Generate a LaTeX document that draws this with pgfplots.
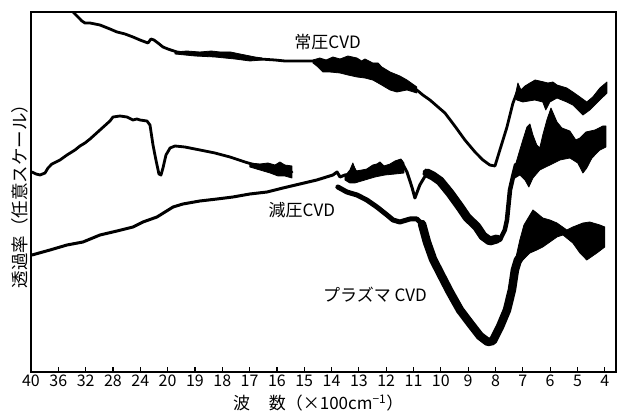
\documentclass[border=0pt]{standalone}
\usepackage{fontspec}
\setmainfont{Noto Sans CJK JP}
\usepackage{pgfplots}
\pgfplotsset{compat=1.18}

% x axis of the spectrometer chart: 4000-2000 cm^-1 at 400 per division,
% 2000-400 cm^-1 at 100 per division (values below in units of 100 cm^-1)
\pgfplotsset{
  ir axis/.style={
    x coord trafo/.code={\pgfmathparse{(##1>=20) ? ((40-##1)/4) : (25-##1)}},
  },
  trace/.style={black, no marks, line join=round, line cap=round, line width=#1},
  noise/.style={fill=black, draw=black, line width=0.8pt, line join=round, no marks},
}

\begin{document}
\begin{tikzpicture}
\begin{axis}[
  ir axis,
  width=585pt, height=360pt, scale only axis,
  xmin=40, xmax=3.59, ymin=0, ymax=360,
  xtick={40,36,32,28,24,20,19,18,17,16,15,14,13,12,11,10,9,8,7,6,5,4},
  xticklabels={40,36,32,28,24,20,19,18,17,16,15,14,13,12,11,10,9,8,7,6,5,4},
  ytick=\empty,
  xtick pos=bottom,
  tick align=inside,
  major tick length=5pt,
  every tick/.style={black, line width=1.2pt},
  axis line style={line width=1.6pt},
  xticklabel style={font=\fontsize{16}{16}\selectfont, inner sep=0pt, yshift=-3pt},
  xlabel={波\hspace{1.1em}数（×100cm\textsuperscript{−1}）},
  ylabel={透過率（任意スケール）},
  every axis x label/.style={at={(rel axis cs:0.491,0)}, anchor=north, inner sep=0pt,
    yshift=-23pt, font=\fontsize{17}{17}\selectfont},
  every axis y label/.style={at={(rel axis cs:-0.0051,0.5)}, rotate=90, anchor=south,
    inner sep=0pt, font=\fontsize{17.5}{17.5}\selectfont},
]

% ---------------- 常圧CVD ----------------
\addplot[trace=2.8pt] coordinates {
 (33.85,360) (33.12,355) (32.54,351) (32.10,349) (31.36,349) (30.63,348)
 (29.90,347) (28.44,343) (27.41,340) (26.24,338) (25.07,335) (24.05,332)
 (22.88,329) (22.44,333) (22.00,332) (21.41,329) (20.68,325) (19.99,323)
 (19.66,320) (19.37,319) (18.82,318) (18.27,317) (17.72,316) (17.17,314)
 (16.62,313) (16.07,312) (15.71,311) (15.34,311) (14.97,311) (14.68,311)
 (13.69,306) (13.07,304) (12.49,300) (11.86,291) (11.24,286) (10.88,282)
 (10.66,277) (10.40,272) (9.85,259) (9.49,246) (9.12,232) (8.75,220)
 (8.46,212) (8.21,207) (8.02,206) (7.84,222) (7.58,245) (7.36,269)
 (7.22,279) (7.11,282) (6.74,280) (6.19,282) (5.64,280) (5.10,274)
 (4.73,264) (4.44,270) (4.18,279) (3.96,284)
};
\addplot[noise] coordinates {
 (19.73,320) (19.30,321) (18.82,320) (18.40,321) (18.08,320) (17.70,320)
 (17.35,318) (16.80,315) (16.55,314)
 (16.55,312) (16.99,311) (17.54,313) (18.27,315) (19.00,316) (19.73,318) (19.73,320)
};
\addplot[noise] coordinates {
 (14.68,312) (14.43,314) (14.20,312) (13.95,315) (13.69,313) (13.40,316)
 (13.07,314) (12.90,311) (12.78,313) (12.49,309) (12.30,309) (12.16,305)
 (11.86,300) (11.50,296) (11.24,292) (10.88,285)
 (10.88,279) (11.24,282) (11.61,280) (11.86,282) (12.23,288) (12.49,292)
 (12.78,294) (13.07,295) (13.40,297) (13.69,299) (14.06,300) (14.32,300)
 (14.54,306) (14.68,309) (14.68,312)
};
\addplot[noise] coordinates {
 (7.29,275) (7.18,289) (7.07,282) (6.92,286) (6.74,289) (6.55,292) (6.38,291)
 (6.08,289) (5.90,290) (5.75,287) (5.39,284) (5.17,280) (4.91,275) (4.66,270)
 (4.44,275) (4.18,284) (3.92,290)
 (3.92,279) (4.18,272) (4.55,262) (4.80,257) (5.17,267) (5.39,270) (5.75,274)
 (6.01,270) (6.16,262) (6.27,270) (6.56,272) (7.00,270) (7.22,272) (7.29,275)
};

% ---------------- プラズマCVD (4000-1550 cm^-1) ----------------
\addplot[trace=2.8pt] coordinates {
 (39.85,200) (39.27,198) (38.68,197) (37.95,199) (37.51,204) (36.93,208)
 (35.76,212) (34.73,217) (33.56,222) (32.83,226) (32.10,229) (31.36,233)
 (29.90,242) (28.44,251) (28.00,255) (26.97,256) (25.95,255) (25.07,252)
 (24.49,253) (24.05,252) (23.02,251) (22.58,247) (22.14,227) (21.71,212)
 (21.27,198) (20.97,197) (20.68,204) (20.24,217) (19.91,224) (19.73,226)
 (19.37,225) (18.82,222) (18.27,219) (17.72,215) (17.17,210) (16.80,207)
 (16.44,205) (16.07,203) (15.71,201) (15.45,200)
};
\addplot[noise] coordinates {
 (16.99,209) (16.62,208) (16.33,209) (16.07,207) (15.89,210) (15.71,207) (15.45,206)
 (15.45,194) (15.71,196) (15.96,196) (16.25,199) (16.62,202) (16.99,205) (16.99,209)
};

% ---------------- 減圧CVD ----------------
\addplot[trace=3pt] coordinates {
 (39.85,117) (37.22,122) (34.73,127) (32.39,130) (29.90,137) (27.41,141)
 (25.07,145) (23.61,150) (21.56,155) (19.80,165) (19.44,168) (18.82,171)
 (18.19,173) (17.61,175) (16.99,178) (16.36,180) (15.78,184) (15.16,188)
 (14.54,192) (13.95,197) (13.80,200) (13.69,195) (13.51,197) (13.33,197)
 (13.22,205) (13.07,198) (12.71,200) (12.34,205) (12.23,207) (11.97,203)
 (11.61,209) (11.46,211) (11.24,200) (11.06,185) (10.95,174) (10.77,187)
 (10.51,199) (10.29,196)
};
\addplot[noise] coordinates {
 (13.51,196) (13.33,202) (13.22,209) (13.11,201) (12.89,202) (12.71,203)
 (12.49,207) (12.34,208) (12.23,210) (12.08,206) (11.86,208) (11.68,211)
 (11.46,213) (11.35,209)
 (11.35,199) (11.68,198) (12.05,197) (12.41,195) (12.78,192) (13.15,189)
 (13.33,189) (13.51,192) (13.51,196)
};
\addplot[trace=9pt] coordinates {
 (10.51,199) (10.29,196) (10.03,191) (9.67,179) (9.30,165) (9.05,155)
 (8.68,145) (8.46,136) (8.21,131) (7.95,133)
};
\addplot[trace=4.5pt] coordinates {
 (8.10,132) (7.84,132) (7.66,142) (7.58,152) (7.47,182) (7.36,195) (7.25,207)
};
\addplot[noise] coordinates {
 (7.36,197) (7.25,209) (7.11,222) (7.00,232) (6.85,245) (6.74,248) (6.63,237)
 (6.49,227) (6.38,224) (6.27,237) (6.12,252) (5.97,264) (5.86,257) (5.75,250)
 (5.57,244) (5.28,241) (5.06,232) (4.91,234) (4.69,240) (4.36,242) (4.07,246)
 (3.96,246)
 (3.96,225) (4.18,222) (4.47,214) (4.66,204) (4.80,199) (4.99,209) (5.28,214)
 (5.64,212) (6.01,207) (6.38,202) (6.63,194) (6.78,185) (6.92,192) (7.11,197)
 (7.29,194) (7.36,197)
};

% ---------------- プラズマCVD (1400-400 cm^-1) ----------------
\addplot[trace=5pt] coordinates {
 (13.77,185) (13.44,180) (13.07,177) (12.71,172) (12.34,165) (11.97,157)
 (11.75,152) (11.50,150) (11.13,153) (10.88,153) (10.69,148)
};
\addplot[trace=8.5pt] coordinates {
 (10.69,148) (10.51,130) (10.29,113) (10.03,99) (9.67,80) (9.30,62)
 (8.94,49) (8.57,36) (8.28,30) (8.10,31) (7.84,45) (7.58,62) (7.40,82)
 (7.29,102) (7.18,112) (7.03,117)
};
\addplot[noise] coordinates {
 (7.29,110) (7.11,132) (6.96,147) (6.85,152) (6.63,162) (6.49,159) (6.27,154)
 (6.01,152) (5.75,149) (5.39,142) (5.17,145) (4.80,149) (4.55,150) (4.18,147)
 (4.00,145)
 (4.00,125) (4.29,119) (4.66,112) (4.91,119) (5.17,129) (5.53,137) (5.75,135)
 (6.01,130) (6.27,125) (6.49,122) (6.74,119) (7.00,112) (7.18,105) (7.29,100)
 (7.29,110)
};

% curve labels
\node[font=\fontsize{17}{17}\selectfont, inner sep=0pt] at (rel axis cs:0.507,0.917) {常圧CVD};
\node[font=\fontsize{17}{17}\selectfont, inner sep=0pt] at (rel axis cs:0.463,0.450) {減圧CVD};
\node[font=\fontsize{17}{17}\selectfont, inner sep=0pt] at (rel axis cs:0.588,0.214) {プラズマ CVD};
\end{axis}
\pgfresetboundingbox
\path[use as bounding box] ([xshift=-31pt,yshift=-39pt]current axis.south west)
  rectangle ([xshift=7pt,yshift=12pt]current axis.north east);
\end{tikzpicture}
\end{document}
